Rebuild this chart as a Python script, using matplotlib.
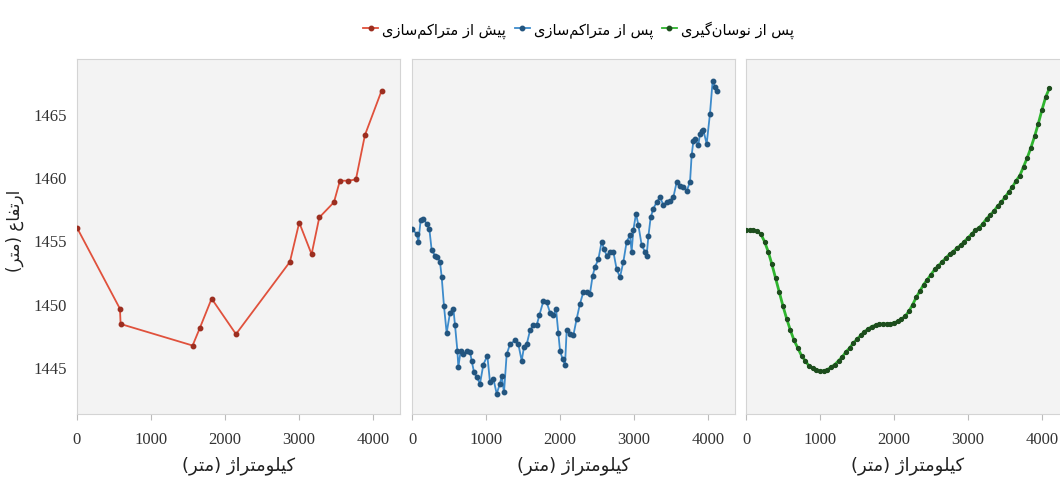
import matplotlib
matplotlib.use("Agg")
import matplotlib.pyplot as plt
from matplotlib.lines import Line2D

# --- data -------------------------------------------------------------
# before densification (surveyed points)
km_raw = [0, 581, 590, 1563, 1662, 1820, 2149, 2878, 3004, 3171, 3275,
          3473, 3554, 3667, 3770, 3892, 4117]
elev_raw = [1456.0, 1449.6, 1448.4, 1446.7, 1448.1, 1450.4, 1447.6, 1453.3,
            1456.4, 1453.9, 1456.8, 1458.0, 1459.7, 1459.7, 1459.8, 1463.3,
            1466.8]

# after densification
km_dense = [0, 63, 86, 117, 153, 198, 234, 266, 311, 342, 378, 401, 432, 468,
            514, 559, 581, 613, 626, 658, 694, 739, 784, 806, 838, 874, 919,
            964, 1018, 1054, 1099, 1144, 1189, 1212, 1243, 1279, 1324, 1392,
            1437, 1482, 1514, 1550, 1595, 1640, 1685, 1721, 1775, 1820, 1865,
            1910, 1946, 1977, 2000, 2036, 2068, 2090, 2135, 2180, 2225, 2270,
            2315, 2360, 2405, 2441, 2473, 2518, 2563, 2595, 2631, 2676, 2721,
            2766, 2811, 2856, 2901, 2946, 2968, 2991, 3027, 3059, 3104, 3149,
            3171, 3194, 3225, 3261, 3306, 3351, 3396, 3441, 3486, 3532, 3577,
            3622, 3667, 3712, 3757, 3779, 3802, 3824, 3869, 3892, 3914, 3937,
            3982, 4027, 4063, 4095, 4126]
elev_dense = [1455.9, 1455.5, 1454.9, 1456.6, 1456.7, 1456.3, 1455.9, 1454.2,
              1453.8, 1453.7, 1453.3, 1452.1, 1449.8, 1447.7, 1449.3, 1449.6,
              1448.3, 1446.3, 1445.0, 1446.3, 1446.0, 1446.3, 1446.2, 1445.5,
              1444.6, 1444.2, 1443.7, 1445.2, 1445.9, 1443.8, 1444.1, 1442.9,
              1443.7, 1444.3, 1443.0, 1446.0, 1446.8, 1447.1, 1446.8, 1445.5,
              1446.6, 1446.8, 1447.9, 1448.3, 1448.3, 1449.1, 1450.2, 1450.1,
              1449.3, 1449.1, 1449.6, 1447.7, 1446.3, 1445.6, 1445.2, 1447.9,
              1447.6, 1447.5, 1448.8, 1450.0, 1450.9, 1450.9, 1450.8, 1452.2,
              1452.9, 1453.5, 1454.9, 1454.3, 1453.8, 1454.1, 1454.1, 1452.7,
              1452.1, 1453.3, 1454.9, 1455.4, 1454.1, 1455.8, 1457.1, 1456.2,
              1454.6, 1454.1, 1453.8, 1455.3, 1456.8, 1457.5, 1458.0, 1458.4,
              1457.8, 1458.0, 1458.1, 1458.4, 1459.6, 1459.3, 1459.2, 1458.9,
              1459.6, 1461.7, 1462.8, 1463.0, 1462.5, 1463.4, 1463.6, 1463.7,
              1462.6, 1465.0, 1467.6, 1467.1, 1466.8]

# after smoothing
km_smooth = list(range(0, 4101, 50))
elev_smooth = [1455.8, 1455.8, 1455.8, 1455.7, 1455.5, 1454.9, 1454.1, 1453.1,
               1452.0, 1450.9, 1449.8, 1448.8, 1447.9, 1447.1, 1446.5, 1445.9,
               1445.5, 1445.1, 1444.9, 1444.8, 1444.7, 1444.7, 1444.8, 1445.0,
               1445.2, 1445.5, 1445.8, 1446.2, 1446.5, 1446.9, 1447.2, 1447.5,
               1447.8, 1448.0, 1448.2, 1448.3, 1448.4, 1448.4, 1448.4, 1448.4,
               1448.5, 1448.6, 1448.8, 1449.0, 1449.4, 1449.9, 1450.5, 1451.0,
               1451.5, 1451.9, 1452.3, 1452.7, 1453.0, 1453.3, 1453.6, 1453.9,
               1454.1, 1454.4, 1454.6, 1454.9, 1455.2, 1455.5, 1455.8, 1456.0,
               1456.3, 1456.7, 1457.0, 1457.3, 1457.7, 1458.0, 1458.4, 1458.8,
               1459.2, 1459.7, 1460.1, 1460.8, 1461.5, 1462.3, 1463.2, 1464.2,
               1465.3, 1466.3, 1467.0]

labels = ["پیش از متراکم‌سازی", "پس از متراکم‌سازی", "پس از نوسان‌گیری"]
xlabel = "کیلومتراژ (متر)"
ylabel = "ارتفاع (متر)"
xticks = [0, 1000, 2000, 3000, 4000]
yticks = [1445, 1450, 1455, 1460, 1465]

# --- minimal persian shaping (matplotlib has no bidi/joining) ----------
# isolated, final, initial, medial ; None = letter does not join forward
FORMS = {
    'ا': ('\uFE8D', '\uFE8E', None, None),
    'ر': ('\uFEAD', '\uFEAE', None, None),
    'ز': ('\uFEAF', '\uFEB0', None, None),
    'ژ': ('\uFB8A', '\uFB8B', None, None),
    'و': ('\uFEED', '\uFEEE', None, None),
    'ت': ('\uFE95', '\uFE96', '\uFE97', '\uFE98'),
    'ف': ('\uFED1', '\uFED2', '\uFED3', '\uFED4'),
    'ع': ('\uFEC9', '\uFECA', '\uFECB', '\uFECC'),
    'م': ('\uFEE1', '\uFEE2', '\uFEE3', '\uFEE4'),
    'ک': ('\uFB8E', '\uFB8F', '\uFB90', '\uFB91'),
    'ی': ('\uFBFC', '\uFBFD', '\uFBFE', '\uFBFF'),
    'ل': ('\uFEDD', '\uFEDE', '\uFEDF', '\uFEE0'),
    'پ': ('\uFB56', '\uFB57', '\uFB58', '\uFB59'),
    'ش': ('\uFEB5', '\uFEB6', '\uFEB7', '\uFEB8'),
    'س': ('\uFEB1', '\uFEB2', '\uFEB3', '\uFEB4'),
    'ن': ('\uFEE5', '\uFEE6', '\uFEE7', '\uFEE8'),
    'گ': ('\uFB92', '\uFB93', '\uFB94', '\uFB95'),
}


def fa(text):
    out = []
    for i, ch in enumerate(text):
        if ch == '\u200c':
            continue
        if ch not in FORMS:
            out.append(ch)
            continue
        prev = text[i - 1] if i > 0 else ''
        nxt = text[i + 1] if i + 1 < len(text) else ''
        iso, fin, ini, med = FORMS[ch]
        jp = prev in FORMS and FORMS[prev][2] is not None
        jn = ini is not None and nxt in FORMS
        if jp and jn:
            out.append(med)
        elif jp:
            out.append(fin)
        elif jn:
            out.append(ini)
        else:
            out.append(iso)
    vis = ''.join(out)[::-1]
    swap = {'(': ')', ')': '('}
    return ''.join(swap.get(c, c) for c in vis)


# --- plot -------------------------------------------------------------
plt.rcParams['font.family'] = ['Liberation Serif', 'DejaVu Sans']
FA_FONT = ['DejaVu Sans']

fig = plt.figure(figsize=(10.6, 4.81), dpi=100)

series = [
    (km_raw, elev_raw, '#e0513c', '#9c2e20'),
    (km_dense, elev_dense, '#3d8bcb', '#23557f'),
    (km_smooth, elev_smooth, '#2fb52f', '#1d4d1d'),
]
lefts = [0.0726, 0.3887, 0.7038]
axes = []
for k, (x, y, c, mc) in enumerate(series):
    ax = fig.add_axes([lefts[k], 0.1372, 0.3047, 0.7381])
    ax.set_facecolor('#f3f3f3')
    lw = 1.3 if k < 2 else 2.0
    ms = 3.2 if k < 2 else 2.8
    ax.plot(x, y, color=c, lw=lw, marker='o', ms=ms, mfc=mc, mec=mc,
            zorder=3)
    ax.set_xlim(0, 4365)
    ax.set_ylim(1441.3, 1469.3)
    ax.set_xticks(xticks)
    ax.set_yticks(yticks)
    for s in ax.spines.values():
        s.set_color('#d4d4d4')
        s.set_linewidth(0.8)
    ax.tick_params(axis='x', length=4, width=0.8, color='#bbbbbb',
                   labelsize=12, pad=8, labelcolor='#333333')
    ax.tick_params(axis='y', length=0, labelsize=12, pad=7,
                   labelcolor='#333333')
    if k > 0:
        ax.tick_params(axis='y', labelleft=False)
    ax.set_xlabel(fa(xlabel), family=FA_FONT, fontsize=13, color='#222222',
                  labelpad=6)
    axes.append(ax)

axes[0].set_ylabel(fa(ylabel), family=FA_FONT, fontsize=12, color='#222222')
axes[0].yaxis.set_label_coords(-0.165, 0.52)

handles = [Line2D([], [], color=c, lw=1.3, marker='o', ms=3.2, mfc=mc, mec=mc)
           for (_, _, c, mc) in series]
fig.legend(handles, [fa(t) for t in labels], loc='center',
           bbox_to_anchor=(0.546, 0.938), ncol=3, frameon=False,
           handlelength=1.0, handletextpad=0.3, columnspacing=0.6,
           prop={'family': FA_FONT, 'size': 10.5})

fig.savefig('out.png', dpi=100)
